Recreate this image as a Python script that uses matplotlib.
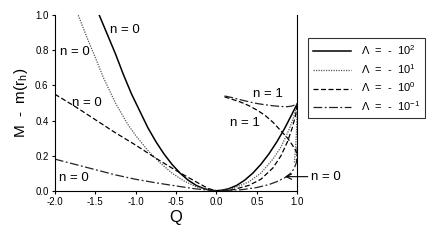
import matplotlib
matplotlib.use("Agg")
import matplotlib.pyplot as plt

plt.rcParams["font.family"] = ["Liberation Sans", "DejaVu Sans"]
plt.rcParams["mathtext.fontset"] = "custom"
plt.rcParams["mathtext.rm"] = "Liberation Sans"
plt.rcParams["mathtext.it"] = "Liberation Sans"

# ---- data ----
# Lambda = -10^2 (solid), n = 0
q_a0 = [-1.45, -1.35, -1.25, -1.15, -1.05, -0.95, -0.85, -0.75, -0.65, -0.55,
        -0.45, -0.35, -0.25, -0.15, -0.05, 0.0, 0.05, 0.15, 0.25, 0.35, 0.45,
        0.55, 0.65, 0.75, 0.85, 0.95, 1.0]
m_a0 = [1.0, 0.89, 0.78, 0.66, 0.55, 0.455, 0.36, 0.28, 0.21, 0.15,
        0.1, 0.06, 0.03, 0.011, 0.001, 0.0, 0.001, 0.011, 0.03, 0.06, 0.1,
        0.15, 0.21, 0.28, 0.36, 0.45, 0.495]

# Lambda = -10^1 (dotted), n = 0 and n = 1
q_b0 = [-1.71, -1.6, -1.5, -1.4, -1.25, -1.1, -1.0, -0.85, -0.7, -0.55, -0.4,
        -0.25, -0.1, 0.0, 0.2, 0.4, 0.55, 0.7, 0.8, 0.9, 0.95, 1.0]
m_b0 = [1.0, 0.87, 0.76, 0.645, 0.5, 0.38, 0.315, 0.23, 0.16, 0.1, 0.055,
        0.022, 0.004, 0.0, 0.012, 0.05, 0.1, 0.18, 0.25, 0.35, 0.41, 0.495]
q_b1 = [1.0, 0.997, 0.99, 0.982, 0.972, 0.965]
m_b1 = [0.495, 0.42, 0.33, 0.26, 0.2, 0.16]

# Lambda = -10^0 (dashed), n = 0 and n = 1
q_c0 = [-2.0, -1.75, -1.5, -1.25, -1.0, -0.75, -0.5, -0.25, -0.1, 0.0,
        0.2, 0.4, 0.55, 0.7, 0.8, 0.88, 0.94, 0.98, 1.0]
m_c0 = [0.55, 0.48, 0.405, 0.33, 0.26, 0.185, 0.115, 0.05, 0.012, 0.0,
        0.005, 0.03, 0.065, 0.13, 0.2, 0.28, 0.36, 0.43, 0.495]
q_c1 = [0.1, 0.2, 0.3, 0.4, 0.5, 0.6, 0.7, 0.8, 0.88, 0.94, 0.98, 1.0]
m_c1 = [0.535, 0.52, 0.505, 0.485, 0.46, 0.43, 0.39, 0.34, 0.3, 0.26, 0.23, 0.21]

# Lambda = -10^-1 (dash-dot), n = 0 and n = 1
q_d0 = [-2.0, -1.75, -1.5, -1.25, -1.0, -0.75, -0.5, -0.25, 0.0,
        0.3, 0.5, 0.65, 0.75, 0.85, 0.92, 0.96, 0.99, 1.0]
m_d0 = [0.18, 0.15, 0.12, 0.09, 0.065, 0.045, 0.027, 0.01, 0.0,
        0.005, 0.018, 0.035, 0.052, 0.075, 0.1, 0.125, 0.16, 0.25]
q_d1 = [0.1, 0.2, 0.3, 0.4, 0.5, 0.6, 0.7, 0.8, 0.88, 0.94, 1.0]
m_d1 = [0.54, 0.53, 0.518, 0.507, 0.497, 0.49, 0.484, 0.48, 0.479, 0.483, 0.495]

legend_labels = ["\u039b  =  -  10$^{2}$", "\u039b  =  -  10$^{1}$",
                 "\u039b  =  -  10$^{0}$", "\u039b  =  -  10$^{-1}$"]

# ---- figure ----
fig = plt.figure(figsize=(4.32, 2.42), dpi=100)
ax = fig.add_axes([0.127, 0.212, 0.561, 0.725])

sty_a = dict(color="black", lw=1.1, ls="-")
sty_b = dict(color="#555555", lw=0.9, ls=(0, (1, 1)))
sty_c = dict(color="black", lw=0.9, ls=(0, (4, 2)))
sty_d = dict(color="#222222", lw=0.9, ls=(0, (7, 2, 1.5, 2)))

la, = ax.plot(q_a0, m_a0, **sty_a)
lb, = ax.plot(q_b0, m_b0, **sty_b)
ax.plot(q_b1, m_b1, **sty_b)
lc, = ax.plot(q_c0, m_c0, **sty_c)
ax.plot(q_c1, m_c1, **sty_c)
ld, = ax.plot(q_d0, m_d0, **sty_d)
ax.plot(q_d1, m_d1, **sty_d)

ax.set_xlim(-2.0, 1.0)
ax.set_ylim(0.0, 1.0)
ax.set_xticks([-2.0, -1.5, -1.0, -0.5, 0.0, 0.5, 1.0])
ax.set_yticks([0.0, 0.2, 0.4, 0.6, 0.8, 1.0])
ax.set_xticklabels(["-2.0", "-1.5", "-1.0", "-0.5", "0.0", "0.5", "1.0"])
ax.set_yticklabels(["0.0", "0.2", "0.4", "0.6", "0.8", "1.0"])
ax.tick_params(labelsize=7, length=2.5, width=0.8, direction="out", pad=2)
ax.spines["top"].set_visible(False)
for s in ["left", "bottom", "right"]:
    ax.spines[s].set_linewidth(0.8)
ax.tick_params(right=False)

ax.set_xlabel("Q", fontsize=12, labelpad=2)
ax.set_ylabel("M  -  m(r$_{h}$)", fontsize=11, labelpad=4)

fs = 9.5
ax.text(-1.32, 0.917, "n = 0", fontsize=fs, va="center")
ax.text(-1.94, 0.79, "n = 0", fontsize=fs, va="center")
ax.text(-1.79, 0.50, "n = 0", fontsize=fs, va="center")
ax.text(-1.95, 0.075, "n = 0", fontsize=fs, va="center")
ax.text(0.45, 0.55, "n = 1", fontsize=fs, va="center")
ax.text(0.17, 0.385, "n = 1", fontsize=fs, va="center")
ax.annotate("n = 0", xy=(0.85, 0.08), xytext=(1.165, 0.08),
            fontsize=fs, va="center", annotation_clip=False,
            arrowprops=dict(arrowstyle="->", color="black", lw=0.8,
                            shrinkA=0, shrinkB=0))

leg = fig.legend([la, lb, lc, ld], legend_labels,
                 loc="upper left", bbox_to_anchor=(308 / 432, 1 - 38 / 242),
                 fontsize=8, frameon=True, fancybox=False,
                 handlelength=3.4, handletextpad=0.9, borderpad=0.45,
                 labelspacing=0.45, borderaxespad=0)
leg.get_frame().set_edgecolor("black")
leg.get_frame().set_linewidth(0.8)

fig.savefig("out.png", dpi=100)
